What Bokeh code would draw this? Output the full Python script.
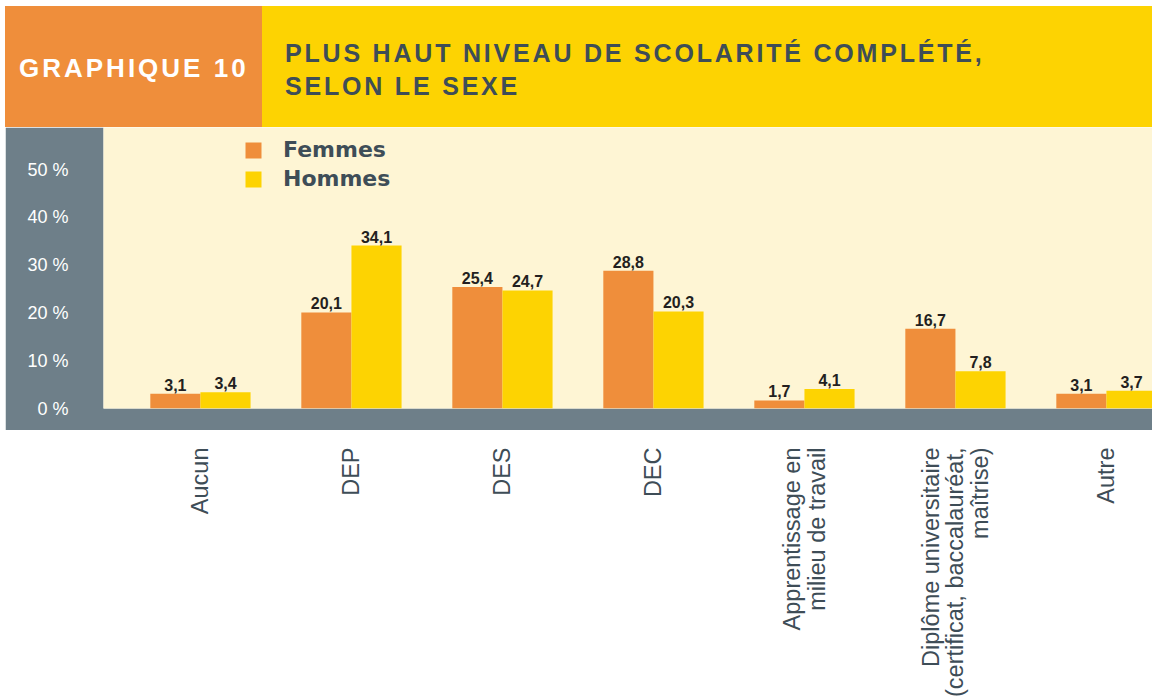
import numpy as np
from bokeh.plotting import figure
from bokeh.models import (Div, FixedTicker, Legend, LegendItem, ColumnDataSource, Range1d)
from bokeh.layouts import column, row
from bokeh.core.properties import value
from bokeh.embed import file_html
from bokeh.resources import INLINE

# ---- data ----
categories = ["Aucun", "DEP", "DES", "DEC",
              "Apprentissage en\nmilieu de travail",
              "Diplôme universitaire\n(certificat, baccalauréat,\nmaîtrise)",
              "Autre"]
femmes = [3.1, 20.1, 25.4, 28.8, 1.7, 16.7, 3.1]
hommes = [3.4, 34.1, 24.7, 20.3, 4.1, 7.8, 3.7]
series_names = ["Femmes", "Hommes"]
y_ticks = [0, 10, 20, 30, 40, 50]
header_label = "GRAPHIQUE 10"
title_lines = ["PLUS HAUT NIVEAU DE SCOLARITÉ COMPLÉTÉ,", "SELON LE SEXE"]

# ---- styles ----
ORANGE = "#EF8E3B"
YELLOW = "#FDD302"
CREAM = "#FEF5D4"
GRAY = "#6E7F89"
SLATE = "#3E4D57"
DARK = "#231F20"
SANS = "Liberation Sans"

# ---- header ----
div_left = Div(
    text=('<div style="width:257px;height:121px;background:%s;color:white;'
          'font-family:\'Liberation Sans\',Arial,sans-serif;font-weight:bold;font-size:26px;'
          'letter-spacing:3px;line-height:26px;box-sizing:border-box;padding:49px 0 0 14px;'
          'white-space:nowrap;">%s</div>') % (ORANGE, header_label),
    width=257, height=121, margin=0)
div_right = Div(
    text=('<div style="width:890px;height:121px;background:%s;color:%s;'
          'font-family:\'Liberation Sans\',Arial,sans-serif;font-weight:bold;font-size:25px;'
          'letter-spacing:2.8px;line-height:33px;box-sizing:border-box;padding:31px 0 0 23px;'
          'white-space:nowrap;">%s</div>') % (YELLOW, SLATE, "<br>".join(title_lines)),
    width=890, height=121, margin=0)

# ---- main chart ----
idx = np.arange(len(categories))
off = 0.166
bw = 0.332
fmt = lambda v: ("%.1f" % v).replace(".", ",")
src = ColumnDataSource(dict(
    x=idx, xf=idx - off, xh=idx + off, f=femmes, h=hommes,
    lf=[fmt(v) for v in femmes], lh=[fmt(v) for v in hommes], cat=categories))

p1 = figure(width=1147, height=303, x_range=Range1d(-0.642, 6.305), y_range=Range1d(0, 58.8),
            output_backend="svg", toolbar_location=None,
            min_border_left=98, min_border_right=0, min_border_top=0, min_border_bottom=22,
            background_fill_color=CREAM, border_fill_color=GRAY, outline_line_color=None,
            margin=0)
p1.xaxis.visible = False
p1.grid.visible = False
yax = p1.yaxis[0]
yax.ticker = FixedTicker(ticks=y_ticks)
yax.major_label_overrides = {t: "%d %%" % t for t in y_ticks}
yax.axis_line_color = None
yax.major_tick_line_color = None
yax.minor_tick_line_color = None
yax.major_label_standoff = 29
yax.major_label_text_color = "white"
yax.major_label_text_font = SANS
yax.major_label_text_font_size = "18px"

rf = p1.vbar(x="xf", top="f", width=bw, fill_color=ORANGE, line_color=None, source=src)
rh = p1.vbar(x="xh", top="h", width=bw, fill_color=YELLOW, line_color=None, source=src)
for xc, yc, lc in (("xf", "f", "lf"), ("xh", "h", "lh")):
    p1.text(x=xc, y=yc, text=lc, source=src, y_offset=-9, text_align="center",
            text_baseline="alphabetic", text_font=value(SANS), text_font_style="bold",
            text_font_size="16px", text_color=DARK)

legend = Legend(items=[LegendItem(label=series_names[0], renderers=[rf]),
                       LegendItem(label=series_names[1], renderers=[rh])],
                location=(140, 217), orientation="vertical",
                background_fill_alpha=0, border_line_color=None,
                padding=0, margin=0, spacing=4,
                glyph_width=20, glyph_height=20, label_standoff=20,
                label_text_font="DejaVu Sans", label_text_font_style="bold",
                label_text_font_size="22px", label_text_color=SLATE)
p1.add_layout(legend)

# ---- category labels ----
p2 = figure(width=1147, height=266, x_range=p1.x_range, y_range=Range1d(0, 266),
            output_backend="svg", toolbar_location=None,
            min_border_left=98, min_border_right=0, min_border_top=0, min_border_bottom=0,
            background_fill_color="white", border_fill_color="white", outline_line_color=None,
            margin=0)
p2.axis.visible = False
p2.grid.visible = False
p2.text(x="x", y=249, text="cat", source=src, angle=np.pi / 2, text_align="right",
        text_baseline="middle", text_font=value(SANS), text_font_size="23.5px",
        text_color=SLATE, text_line_height=0.95)

layout = column(row(div_left, div_right, spacing=0, margin=0), p1, p2,
                spacing=0, margin=(6, 0, 0, 5))
open("out.html", "w").write(file_html(layout, INLINE))
